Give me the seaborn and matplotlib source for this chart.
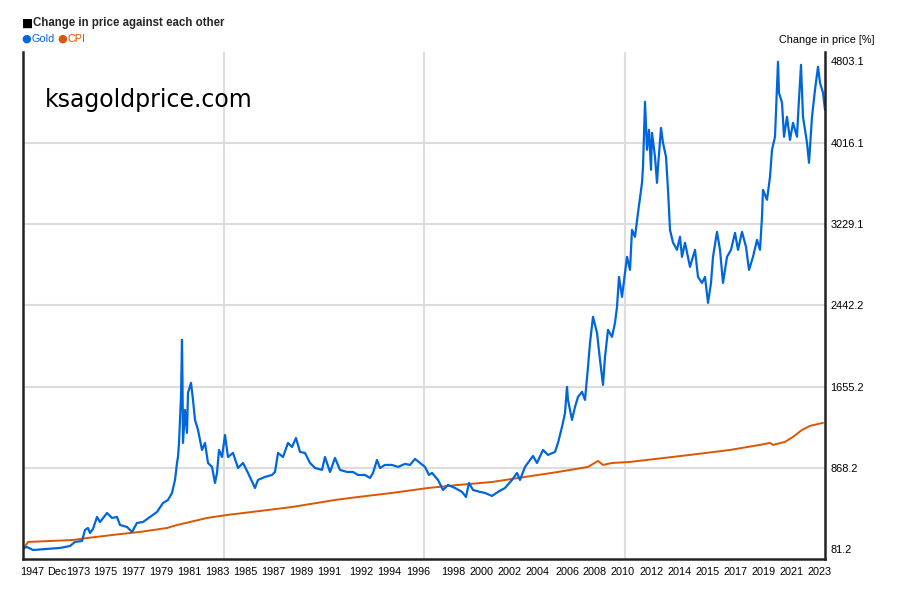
import matplotlib
matplotlib.use("Agg")
import matplotlib.pyplot as plt
import seaborn as sns
import pandas as pd

# ---------------- data ----------------
# x = sample position along the (index-based) time axis, 0..802
gold_idx = [1, 4, 10, 24, 37, 47, 52, 59, 62, 65,
            67, 70, 74, 77, 84, 89, 94, 97, 104, 109,
            114, 120, 127, 134, 140, 145, 149, 152, 154, 155,
            156, 158, 159, 159.5, 160, 162, 164, 165, 168, 170,
            172, 175, 179, 182, 185, 189, 192, 194, 196, 199,
            202, 205, 210, 215, 220, 225, 232, 235, 242, 249,
            252, 255, 260, 265, 269, 273, 277, 282, 287, 292,
            299, 302, 307, 312, 317, 324, 330, 335, 342, 347,
            350, 354, 357, 362, 369, 375, 382, 387, 392, 397,
            402, 406, 409, 415, 420, 425, 432, 439, 443, 446,
            450, 457, 462, 469, 475, 482, 489, 494, 497, 502,
            507, 510, 514, 520, 525, 532, 535, 539, 542, 544,
            545, 549, 552, 555, 559, 562, 565, 567, 570, 574,
            577, 580, 582, 585, 589, 592, 594, 596, 599, 604,
            607, 609, 612, 615, 619, 620, 622, 624, 626, 628,
            629, 632, 634, 635, 638, 640, 643, 645, 647, 650,
            654, 657, 659, 662, 667, 672, 675, 679, 682, 685,
            688, 690, 694, 697, 700, 704, 708, 712, 715, 719,
            723, 726, 730, 734, 737, 739, 740, 744, 747, 749,
            752, 755, 756, 759, 761, 764, 767, 770, 774, 775,
            778, 780, 784, 786, 789, 792, 795, 797, 800, 802]
gold_pct = [96, 105, 76, 86, 96, 115, 154, 163, 270, 289,
            241, 280, 396, 347, 434, 386, 396, 318, 299, 251,
            338, 347, 396, 444, 531, 560, 628, 754, 918, 976,
            1112, 1557, 2109, 1693, 1112, 1431, 1209, 1596, 1693, 1528,
            1335, 1238, 1044, 1112, 918, 880, 725, 822, 1044, 976,
            1189, 976, 1015, 870, 918, 822, 676, 754, 783, 802,
            831, 1015, 976, 1112, 1073, 1160, 1025, 1015, 918, 870,
            851, 976, 831, 967, 851, 831, 831, 802, 802, 773,
            822, 947, 870, 899, 899, 880, 909, 899, 957, 918,
            880, 802, 822, 754, 657, 705, 676, 638, 589, 725,
            657, 638, 628, 599, 638, 676, 754, 822, 754, 880,
            947, 986, 918, 1044, 996, 1025, 1112, 1267, 1402, 1654,
            1528, 1335, 1460, 1557, 1606, 1528, 1847, 2080, 2332, 2177,
            1915, 1673, 1944, 2206, 2138, 2274, 2428, 2718, 2525, 2912,
            2786, 3173, 3106, 3338, 3628, 3783, 4412, 3948, 4141, 3754,
            4112, 3880, 3628, 3783, 4160, 4015, 3880, 3560, 3173, 3050,
            2980, 3106, 2912, 3048, 2815, 2980, 2718, 2660, 2718, 2467,
            2660, 2912, 3154, 2980, 2660, 2912, 2980, 3144, 2980, 3154,
            3009, 2786, 2912, 3077, 2980, 3300, 3560, 3464, 3686, 3948,
            4074, 4799, 4499, 4403, 4074, 4267, 4044, 4209, 4074, 4267,
            4770, 4267, 4015, 3822, 4267, 4528, 4751, 4596, 4499, 4335]

cpi_idx = [1, 5, 27, 50, 64, 90, 117, 144, 154, 167,
           184, 204, 245, 269, 312, 335, 369, 405, 435, 469,
           502, 535, 565, 575, 580, 589, 607, 667, 707, 737,
           747, 750, 762, 770, 779, 787, 800]
cpi_pct = [96, 154, 163, 173, 192, 222, 251, 289, 318, 347,
           386, 415, 463, 492, 560, 589, 628, 676, 705, 734,
           783, 831, 880, 938, 899, 918, 928, 996, 1044, 1093,
           1112, 1093, 1122, 1170, 1238, 1277, 1306]

y_ticks = [81.2, 868.2, 1655.2, 2442.2, 3229.1, 4016.1, 4803.1]
x_tick_pos = [9, 34, 55, 82, 110, 138, 166, 194, 222, 250,
              278, 306, 338, 366, 395, 430.5, 458, 486, 514, 544,
              571.5, 599.5, 628.5, 656.5, 684.5, 713, 741, 769, 797]
x_tick_labels = ["1947", "Dec", "1973", "1975", "1977", "1979", "1981", "1983",
                 "1985", "1987", "1989", "1991", "1992", "1994", "1996", "1998",
                 "2000", "2002", "2004", "2006", "2008", "2010", "2012", "2014",
                 "2015", "2017", "2019", "2021", "2023"]
x_grid = [200.5, 401, 601.5]

GOLD = "#0066dd"
CPI = "#dd5500"

# ---------------- figure ----------------
sns.set_theme(style="white")
plt.rcParams["font.family"] = ["Liberation Sans", "DejaVu Sans"]

fig = plt.figure(figsize=(9, 6), dpi=100)
ax = fig.add_axes([23 / 900, 1 - 559 / 600, 802 / 900, 507 / 600])

for v in y_ticks[1:-1]:
    ax.axhline(v, color="#dddddd", lw=1.5, zorder=0)
for v in x_grid:
    ax.axvline(v, color="#dddddd", lw=1.5, zorder=0)

df_c = pd.DataFrame({"x": cpi_idx, "y": cpi_pct})
df_g = pd.DataFrame({"x": gold_idx, "y": gold_pct})
sns.lineplot(data=df_c, x="x", y="y", ax=ax, color=CPI, lw=1.4,
             sort=False, estimator=None)
sns.lineplot(data=df_g, x="x", y="y", ax=ax, color=GOLD, lw=1.6,
             sort=False, estimator=None)

ax.set_xlim(0, 802)
ax.set_ylim(-11, 4894)
ax.set_xlabel("")
ax.set_ylabel("")

ax.set_xticks(x_tick_pos)
ax.set_xticklabels(x_tick_labels, fontsize=7.8)
ax.yaxis.tick_right()
ax.set_yticks(y_ticks)
ax.set_yticklabels([f"{v:.1f}" for v in y_ticks], fontsize=7.9)
ax.tick_params(axis="both", length=0, colors="black")
ax.tick_params(axis="x", pad=6)
ax.tick_params(axis="y", pad=4)

for side in ["left", "right", "bottom"]:
    ax.spines[side].set_visible(True)
    ax.spines[side].set_color("#222222")
    ax.spines[side].set_linewidth(1.8)
ax.spines["top"].set_visible(False)

ax.text(0.027, 0.905, "ksagoldprice.com", transform=ax.transAxes,
        fontsize=17, family="DejaVu Sans", color="black", va="center", ha="left")

fig.text(22 / 900, 1 - 23 / 600, "\u25a0", fontsize=8.5, color="black",
         va="center", ha="left", family="DejaVu Sans")
fig.text(33 / 900, 1 - 23 / 600, "Change in price against each other",
         fontsize=8.3, fontweight="bold", va="center", ha="left")
fig.text(21 / 900, 1 - 38.5 / 600, "\u25cf", fontsize=8, color=GOLD,
         va="center", ha="left", family="DejaVu Sans")
fig.text(31 / 900, 1 - 38.5 / 600, "Gold", fontsize=7.8, color=GOLD,
         va="center", ha="left")
fig.text(57 / 900, 1 - 38.5 / 600, "\u25cf", fontsize=8, color=CPI,
         va="center", ha="left", family="DejaVu Sans")
fig.text(67 / 900, 1 - 38.5 / 600, "CPI", fontsize=7.8, color=CPI,
         va="center", ha="left")
fig.text(779 / 900, 1 - 40 / 600, "Change in price [%]", fontsize=7.8,
         color="black", va="center", ha="left")

fig.savefig("out.png", dpi=100)
